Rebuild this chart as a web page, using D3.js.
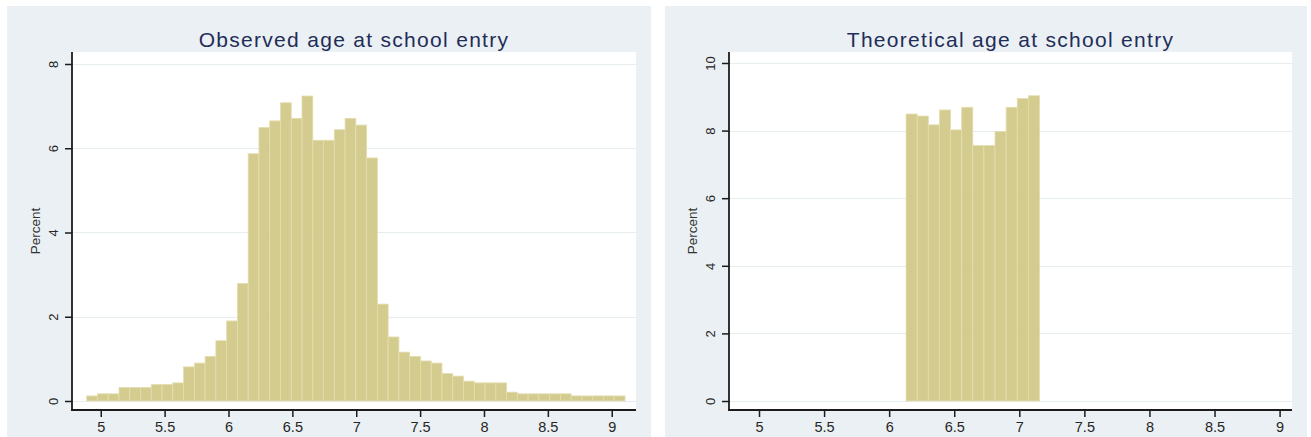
<!DOCTYPE html>
<html>
<head>
<meta charset="utf-8">
<script src="https://cdn.jsdelivr.net/npm/d3@7"></script>
<style>
  html, body { margin: 0; padding: 0; background: #ffffff; }
  svg { display: block; }
  text { font-family: "Liberation Sans", Arial, sans-serif; }
</style>
</head>
<body>
<svg id="chart" width="1311" height="437"></svg>
<script>
// Observed age at school entry: percent of pupils per age bin (years)
const observedBinStart = 4.890;
const observedBinWidth = 0.08428;
const observedPercent = [
  0.12, 0.17, 0.17, 0.32, 0.32, 0.32, 0.39, 0.39, 0.43, 0.81,
  0.90, 1.06, 1.43, 1.90, 2.79, 5.87, 6.49, 6.65, 7.08, 6.71,
  7.24, 6.19, 6.19, 6.44, 6.71, 6.55, 5.77, 2.30, 1.52, 1.16,
  1.06, 0.95, 0.90, 0.65, 0.59, 0.47, 0.43, 0.43, 0.43, 0.21,
  0.17, 0.17, 0.17, 0.17, 0.17, 0.12, 0.12, 0.12, 0.12, 0.12
];

// Theoretical age at school entry (from birth date and entry rules)
const theoreticalBinStart = 6.130;
const theoreticalBinWidth = 0.08542;
const theoreticalPercent = [
  8.49, 8.43, 8.17, 8.61, 8.02, 8.69, 7.56, 7.56, 7.97, 8.69, 8.95, 9.03
];

// Axis ticks
const ageTicks = [5, 5.5, 6, 6.5, 7, 7.5, 8, 8.5, 9];
const observedPercentTicks = [0, 2, 4, 6, 8];
const theoreticalPercentTicks = [0, 2, 4, 6, 8, 10];

const titles = ["Observed age at school entry", "Theoretical age at school entry"];
const yTitle = "Percent";

const svg = d3.select("#chart");

const BAR_FILL = "#d4cc8f";
const BAR_EDGE = "#e4ddb0";
const PANEL_BG = "#eaf0f3";
const GRID = "#e6edf0";
const AXIS = "#1c1c1c";
const TITLE = "#1f2d58";

const panels = [
  {
    bg: [7, 6, 644, 440],
    plot: { x0: 72, x1: 636, y0: 52, y1: 410 },
    xDomain: [4.775, 9.190],
    yDomain: [-0.214, 8.285],
    yTicks: observedPercentTicks,
    binStart: observedBinStart,
    binWidth: observedBinWidth,
    values: observedPercent,
    title: titles[0],
    yTitleX: 40
  },
  {
    bg: [665, 6, 642, 440],
    plot: { x0: 729, x1: 1292, y0: 52, y1: 410 },
    xDomain: [4.7694, 9.0953],
    yDomain: [-0.266, 10.325],
    yTicks: theoreticalPercentTicks,
    binStart: theoreticalBinStart,
    binWidth: theoreticalBinWidth,
    values: theoreticalPercent,
    title: titles[1],
    yTitleX: 697
  }
];

panels.forEach(p => {
  const g = svg.append("g");
  const { x0, x1, y0, y1 } = p.plot;

  // panel background and white plot region
  g.append("rect")
    .attr("x", p.bg[0]).attr("y", p.bg[1])
    .attr("width", p.bg[2]).attr("height", p.bg[3])
    .attr("fill", PANEL_BG);
  g.append("rect")
    .attr("x", x0).attr("y", y0)
    .attr("width", x1 - x0).attr("height", y1 - y0)
    .attr("fill", "#ffffff");

  const x = d3.scaleLinear().domain(p.xDomain).range([x0, x1]);
  const y = d3.scaleLinear().domain(p.yDomain).range([y1, y0]);

  // horizontal grid lines
  g.append("g").selectAll("line")
    .data(p.yTicks)
    .join("line")
    .attr("x1", x0).attr("x2", x1)
    .attr("y1", d => Math.round(y(d)) + 0.5)
    .attr("y2", d => Math.round(y(d)) + 0.5)
    .attr("stroke", GRID)
    .attr("stroke-width", 1.2);

  // histogram bars
  const bins = p.values.map((v, i) => ({
    lo: p.binStart + i * p.binWidth,
    hi: p.binStart + (i + 1) * p.binWidth,
    v
  }));
  g.append("g").selectAll("rect")
    .data(bins)
    .join("rect")
    .attr("x", d => x(d.lo))
    .attr("y", d => y(d.v))
    .attr("width", d => x(d.hi) - x(d.lo))
    .attr("height", d => y(0) - y(d.v))
    .attr("fill", BAR_FILL)
    .attr("stroke", BAR_EDGE)
    .attr("stroke-width", 0.8);

  // y axis
  const yAxis = d3.axisLeft(y)
    .tickValues(p.yTicks)
    .tickSize(7)
    .tickPadding(6)
    .tickFormat(d3.format("d"));
  const ya = g.append("g")
    .attr("transform", `translate(${x0},0)`)
    .call(yAxis);
  ya.select(".domain").remove();
  ya.selectAll(".tick line").attr("stroke", AXIS).attr("stroke-width", 1.5);
  ya.selectAll(".tick text")
    .attr("fill", "#262626")
    .attr("font-size", 13)
    .attr("x", null)
    .attr("text-anchor", "middle")
    .attr("transform", "translate(-19,0) rotate(-90)")
    .attr("dy", "0.35em");
  g.append("line")
    .attr("x1", x0).attr("x2", x0)
    .attr("y1", y0).attr("y2", y1 + 1)
    .attr("stroke", AXIS).attr("stroke-width", 1.8);

  // x axis
  const xAxis = d3.axisBottom(x)
    .tickValues(ageTicks)
    .tickSize(7)
    .tickPadding(5)
    .tickFormat(d => String(d));
  const xa = g.append("g")
    .attr("transform", `translate(0,${y1})`)
    .call(xAxis);
  xa.select(".domain").remove();
  xa.selectAll(".tick line").attr("stroke", AXIS).attr("stroke-width", 1.5);
  xa.selectAll(".tick text")
    .attr("fill", "#262626")
    .attr("font-size", 14.5);
  g.append("line")
    .attr("x1", x0 - 1).attr("x2", x1)
    .attr("y1", y1).attr("y2", y1)
    .attr("stroke", AXIS).attr("stroke-width", 1.8);

  // titles
  g.append("text")
    .attr("x", (x0 + x1) / 2)
    .attr("y", 47)
    .attr("text-anchor", "middle")
    .attr("fill", TITLE)
    .attr("font-size", 21)
    .attr("letter-spacing", 1.3)
    .text(p.title);

  g.append("text")
    .attr("transform", `translate(${p.yTitleX},${(y0 + y1) / 2}) rotate(-90)`)
    .attr("text-anchor", "middle")
    .attr("fill", "#333333")
    .attr("font-size", 13.5)
    .text(yTitle);
});
</script>
</body>
</html>
